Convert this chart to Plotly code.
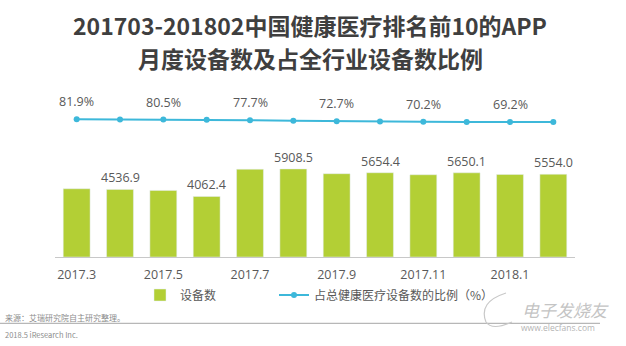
import plotly.graph_objects as go

months = ["2017.3", "2017.4", "2017.5", "2017.6", "2017.7", "2017.8",
          "2017.9", "2017.10", "2017.11", "2017.12", "2018.1", "2018.2"]
devices = [4580, 4536.9, 4470, 4062.4, 5890, 5908.5,
           5590, 5654.4, 5520, 5650.1, 5540, 5554.0]
device_labels = ["", "4536.9", "", "4062.4", "", "5908.5",
                 "", "5654.4", "", "5650.1", "", "5554.0"]
share = [81.9, 81.3, 80.5, 79.8, 77.7, 75.4,
         72.7, 71.9, 70.2, 69.7, 69.2, 68.9]
share_labels = ["81.9%", "", "80.5%", "", "77.7%", "",
                "72.7%", "", "70.2%", "", "69.2%", ""]
tick_months = ["2017.3", "2017.5", "2017.7", "2017.9", "2017.11", "2018.1"]
title_line1 = "201703-201802中国健康医疗排名前10的APP"
title_line2 = "月度设备数及占全行业设备数比例"

BAR = "#b3cf35"
LINE = "#3db8da"
TXT = "#595959"
NUM_FONT = "Open Sans, Noto Sans CJK SC, sans-serif"
CJK_FONT = "Noto Sans CJK SC, sans-serif"

W, H = 626, 346
ml, mr, mt, mb = 55, 51, 90, 89
pw, ph = W - ml - mr, H - mt - mb


def paper_x(x):
    return (x - ml) / pw


def paper_y(y):
    return (H - mb - y) / ph


fig = go.Figure()
fig.add_trace(go.Bar(
    x=months, y=devices, name="设备数", marker_color=BAR,
    legend="legend", yaxis="y",
))
fig.add_trace(go.Scatter(
    x=months, y=share, name="占总健康医疗设备数的比例（%）",
    mode="lines+markers", line=dict(color=LINE, width=2),
    marker=dict(color=LINE, size=6), yaxis="y2", legend="legend2",
))

annotations = []
for i, (v, t) in enumerate(zip(devices, device_labels)):
    if t:
        annotations.append(dict(x=i, y=v, xref="x", yref="y", text=t,
                                showarrow=False, yanchor="bottom", yshift=1,
                                font=dict(family=NUM_FONT, size=12.5, color=TXT)))
for i, (v, t) in enumerate(zip(share, share_labels)):
    if t:
        annotations.append(dict(x=i, y=v, xref="x", yref="y2", text=t,
                                showarrow=False, yanchor="bottom", yshift=7,
                                font=dict(family=NUM_FONT, size=12.5, color=TXT)))

annotations.append(dict(xref="paper", yref="paper", x=paper_x(310), y=paper_y(57.5),
                        xanchor="center", yanchor="middle", text="<b>%s</b>" % title_line2,
                        showarrow=False,
                        font=dict(family=CJK_FONT, size=23, color="#3f3f3f")))

footer = [
    dict(text="来源：艾瑞研究院自主研究整理。", x=3, y=317, size=8, color="#8c8c8c"),
    dict(text="2018.5 iResearch Inc.", x=3, y=334, size=7.5, color="#8c8c8c"),
]
for f in footer:
    annotations.append(dict(xref="paper", yref="paper", x=paper_x(f["x"]), y=paper_y(f["y"]),
                            xanchor="left", yanchor="middle", text=f["text"],
                            showarrow=False,
                            font=dict(family=CJK_FONT, size=f["size"], color=f["color"])))

annotations.append(dict(xref="paper", yref="paper", x=paper_x(520), y=paper_y(309),
                        xanchor="left", yanchor="middle", text="<i>电子发烧友</i>",
                        showarrow=False,
                        font=dict(family=CJK_FONT, size=17, color="#c4c4c4")))
annotations.append(dict(xref="paper", yref="paper", x=paper_x(519), y=paper_y(327),
                        xanchor="left", yanchor="middle", text="www.elecfans.com",
                        showarrow=False,
                        font=dict(family=NUM_FONT, size=8.5, color="#b4b4b4")))

shapes = [
    dict(type="line", xref="paper", yref="paper",
         x0=paper_x(0), x1=paper_x(600), y0=paper_y(323.3), y1=paper_y(323.3),
         line=dict(color="#a6a6a6", width=1)),
    dict(type="path", xref="paper", yref="paper",
         path="M {},{} Q {},{} {},{} Q {},{} {},{}".format(
             paper_x(506), paper_y(293), paper_x(478), paper_y(302),
             paper_x(486), paper_y(322), paper_x(492), paper_y(331),
             paper_x(512), paper_y(322)),
         line=dict(color="#c8c8c8", width=1.2)),
]

fig.update_layout(
    width=W, height=H,
    margin=dict(l=ml, r=mr, t=mt, b=mb),
    paper_bgcolor="white", plot_bgcolor="white",
    bargap=0.38,
    title=dict(
        text=title_line1,
        x=310 / W, xanchor="center", xref="container",
        y=1 - 26.5 / H, yanchor="middle", yref="container",
        font=dict(family=CJK_FONT, size=23, color="#3f3f3f", weight="bold"),
    ),
    xaxis=dict(
        type="category", range=[-0.5, len(months) - 0.5], autorange=False,
        showgrid=False, zeroline=False,
        showline=True, linecolor="#c8c8c8", linewidth=1,
        tickmode="array", tickvals=tick_months, ticktext=tick_months,
        ticks="", ticklabelstandoff=6, tickangle=0,
        tickfont=dict(family=NUM_FONT, size=12.5, color=TXT),
    ),
    yaxis=dict(range=[0, 11206], visible=False, showgrid=False, zeroline=False),
    yaxis2=dict(range=[-565.8, 219.7], overlaying="y", side="right",
                visible=False, showgrid=False, zeroline=False),
    legend=dict(orientation="h", xref="paper", yref="paper",
                x=paper_x(140), y=paper_y(295), xanchor="left", yanchor="middle",
                font=dict(family=CJK_FONT, size=12, color=TXT),
                bgcolor="rgba(0,0,0,0)"),
    legend2=dict(orientation="h", xref="paper", yref="paper",
                 x=paper_x(274), y=paper_y(295), xanchor="left", yanchor="middle",
                 font=dict(family=CJK_FONT, size=12, color=TXT),
                 bgcolor="rgba(0,0,0,0)"),
    annotations=annotations,
    shapes=shapes,
    showlegend=True,
)

fig.write_html("out.html")
